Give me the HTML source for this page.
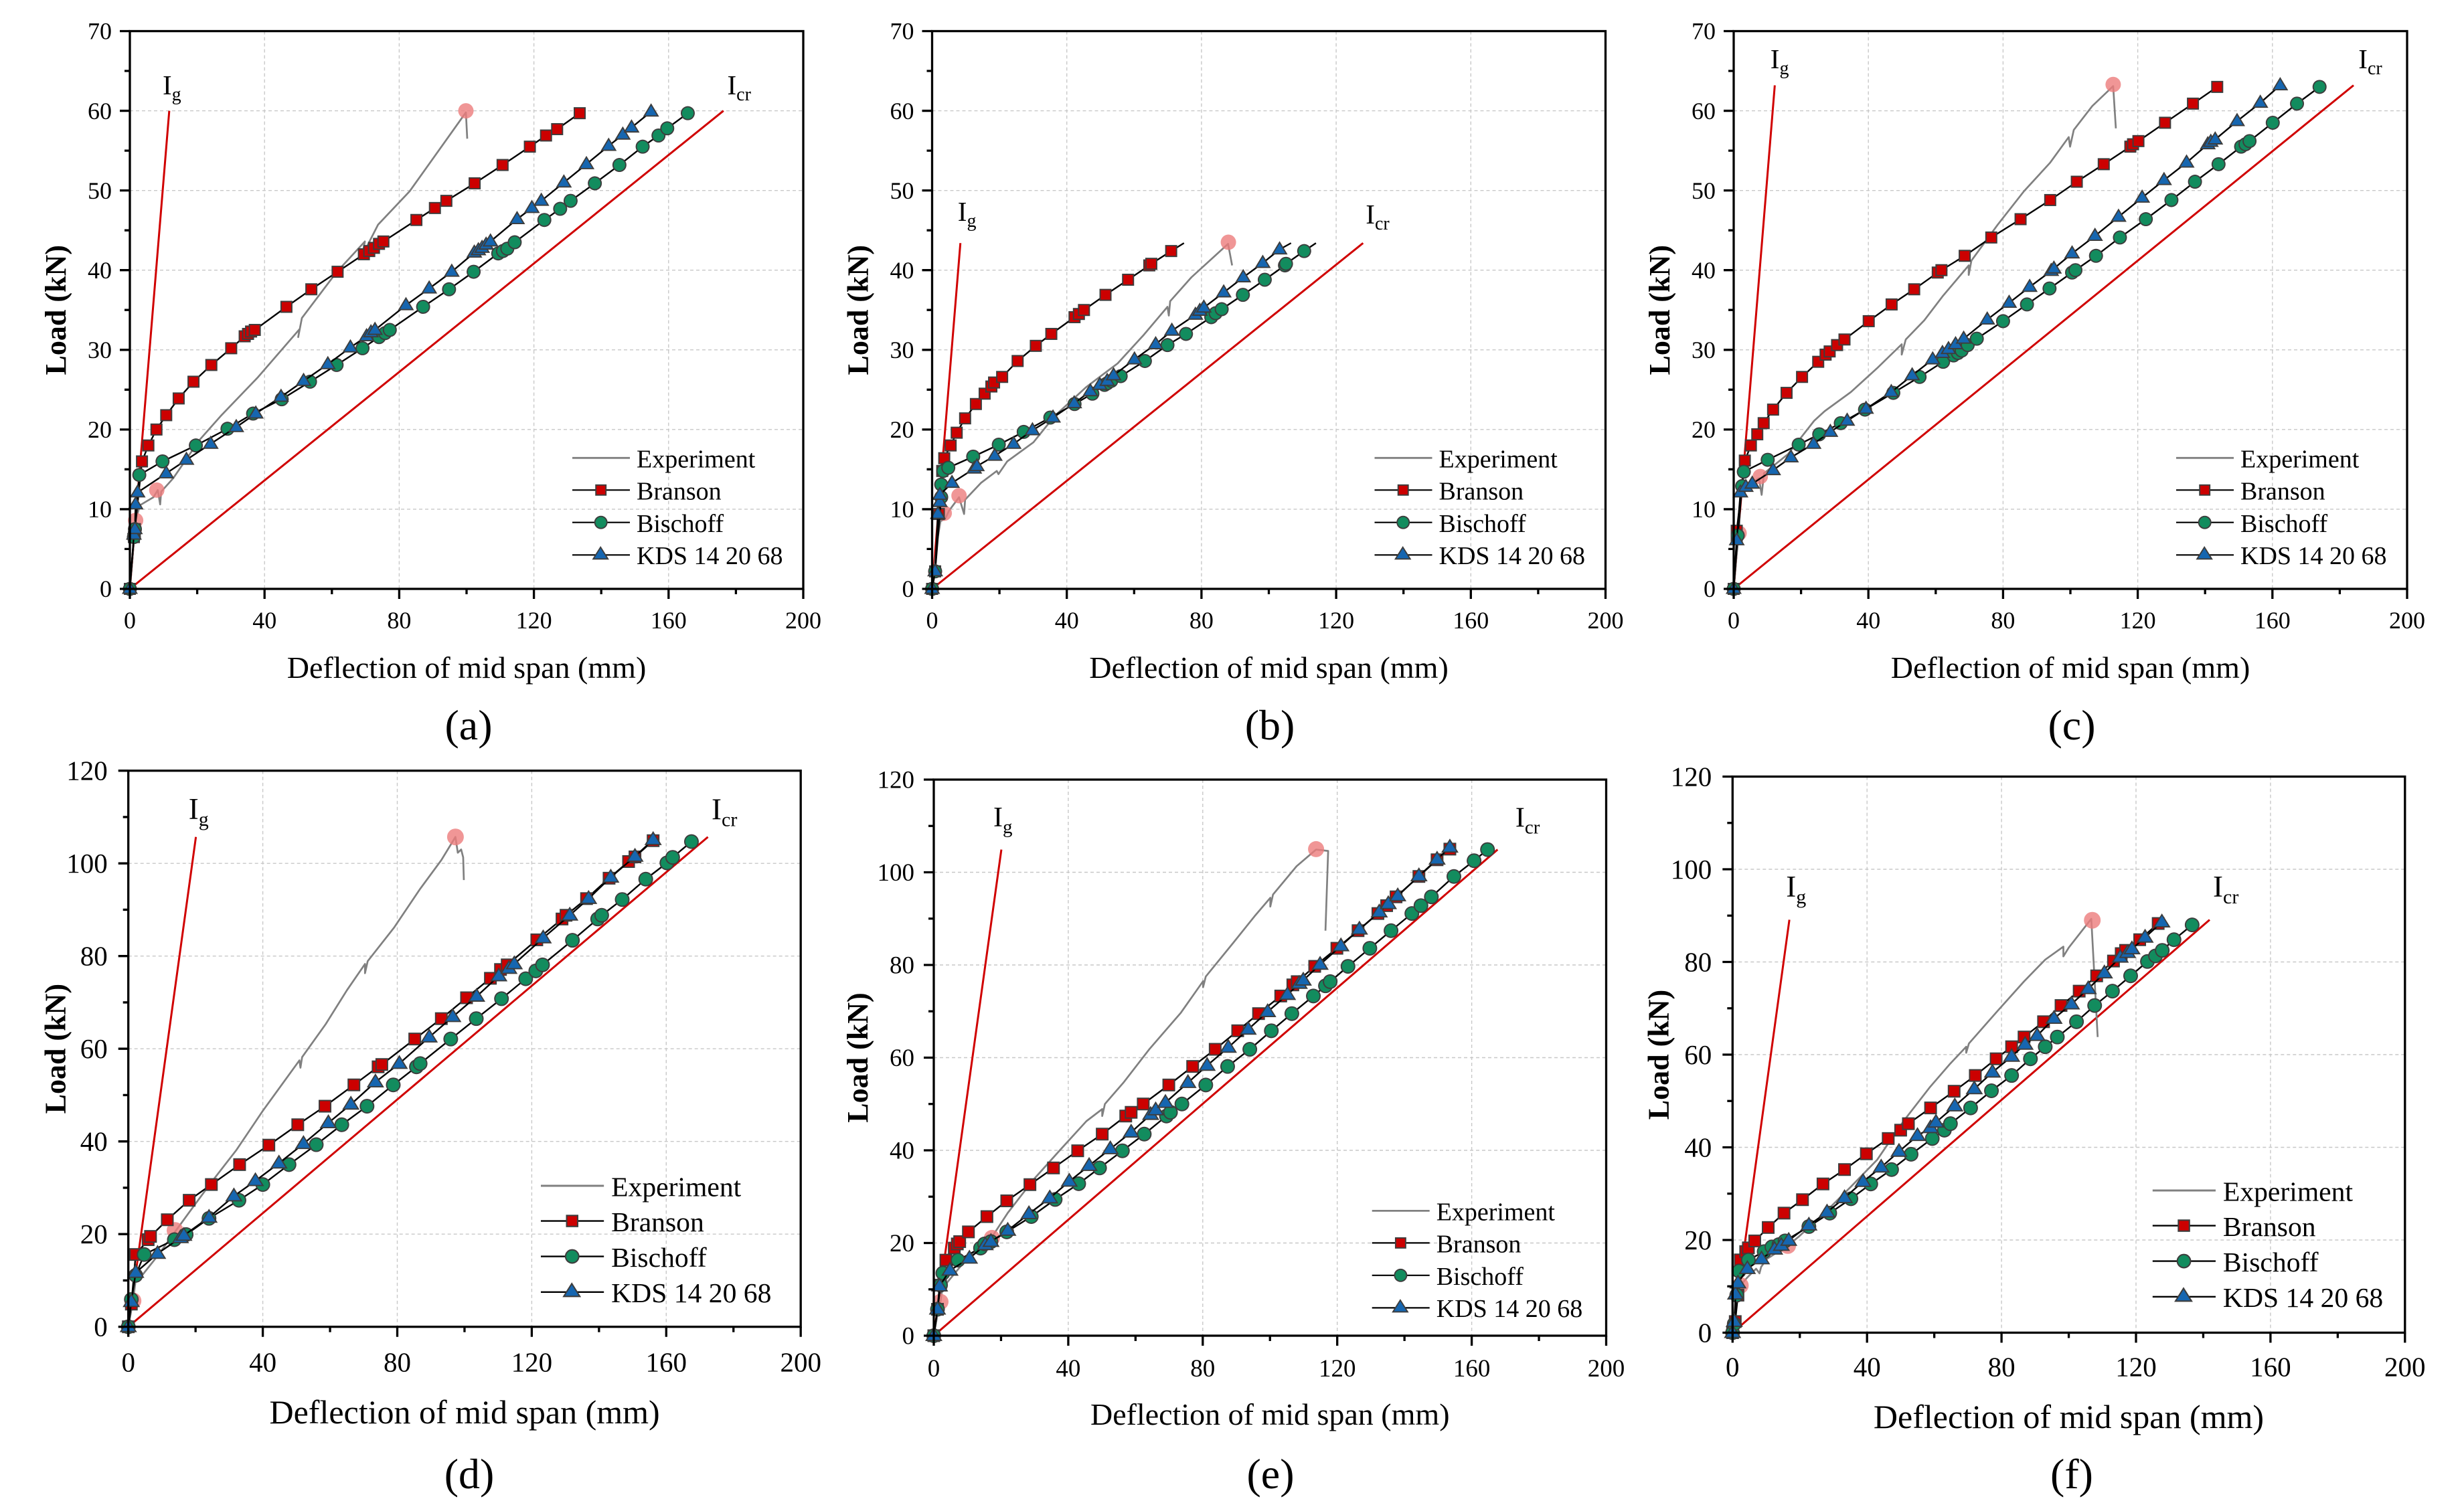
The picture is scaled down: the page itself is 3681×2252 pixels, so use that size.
<!DOCTYPE html>
<html><head><meta charset="utf-8"><style>
html,body{margin:0;padding:0;background:#fff;}
svg{display:block;}
.gr{fill:none;stroke:#c8c8c8;stroke-width:1.4;stroke-dasharray:5 4;}
.red{fill:none;stroke:#d00000;stroke-width:3;vector-effect:non-scaling-stroke;}
.ex{fill:none;stroke:#808080;stroke-width:2.7;vector-effect:non-scaling-stroke;stroke-linejoin:round;}
.ln{fill:none;stroke:#000;stroke-width:2.4;vector-effect:non-scaling-stroke;stroke-linejoin:round;}
.mk{fill:none;stroke:none;}
.s1{marker-start:url(#sq1);marker-mid:url(#sq1);marker-end:url(#sq1);}
.c1{marker-start:url(#ci1);marker-mid:url(#ci1);marker-end:url(#ci1);}
.t1{marker-start:url(#tr1);marker-mid:url(#tr1);marker-end:url(#tr1);}
.s2{marker-start:url(#sq2);marker-mid:url(#sq2);marker-end:url(#sq2);}
.c2{marker-start:url(#ci2);marker-mid:url(#ci2);marker-end:url(#ci2);}
.t2{marker-start:url(#tr2);marker-mid:url(#tr2);marker-end:url(#tr2);}
.pk{fill:#ec7c7c;fill-opacity:0.8;}
text{font-family:"Liberation Serif","Times New Roman",serif;fill:#000;}
.yt{font-weight:bold;}
</style></head><body>
<svg xmlns="http://www.w3.org/2000/svg" width="3681" height="2252" viewBox="0 0 3681 2252" font-family="'Liberation Serif', 'Times New Roman', serif">
<defs>
<marker id="sq1" markerUnits="userSpaceOnUse" viewBox="-5 -5 10 10" markerWidth="10" markerHeight="10" refX="0" refY="0" orient="0"><rect x="-1.789" y="-0.756" width="3.578" height="1.512" fill="#3d3d3d"/><rect x="-1.412" y="-0.596" width="2.824" height="1.192" fill="#cc0000"/></marker>
<marker id="ci1" markerUnits="userSpaceOnUse" viewBox="-5 -5 10 10" markerWidth="10" markerHeight="10" refX="0" refY="0" orient="0"><ellipse cx="0" cy="0" rx="2.087" ry="0.882" fill="#3d3d3d"/><ellipse cx="0" cy="0" rx="1.71" ry="0.722" fill="#128c5e"/></marker>
<marker id="tr1" markerUnits="userSpaceOnUse" viewBox="-5 -5 10 10" markerWidth="10" markerHeight="10" refX="0" refY="0" orient="0"><polygon points="-2.386,-0.63 2.386,-0.63 0,1.05" fill="#3d3d3d"/><polygon points="-1.718,-0.47 1.718,-0.47 0,0.739" fill="#1666b0"/></marker>
<marker id="sq2" markerUnits="userSpaceOnUse" viewBox="-5 -5 10 10" markerWidth="10" markerHeight="10" refX="0" refY="0" orient="0"><rect x="-1.891" y="-1.372" width="3.782" height="2.744" fill="#3d3d3d"/><rect x="-1.513" y="-1.097" width="3.026" height="2.194" fill="#cc0000"/></marker>
<marker id="ci2" markerUnits="userSpaceOnUse" viewBox="-5 -5 10 10" markerWidth="10" markerHeight="10" refX="0" refY="0" orient="0"><ellipse cx="0" cy="0" rx="2.19" ry="1.588" fill="#3d3d3d"/><ellipse cx="0" cy="0" rx="1.812" ry="1.314" fill="#128c5e"/></marker>
<marker id="tr2" markerUnits="userSpaceOnUse" viewBox="-5 -5 10 10" markerWidth="10" markerHeight="10" refX="0" refY="0" orient="0"><polygon points="-2.588,-1.155 2.588,-1.155 0,1.877" fill="#3d3d3d"/><polygon points="-1.91,-0.881 1.91,-0.881 0,1.357" fill="#1666b0"/></marker>

<g id="grT"><path class="gr" d="M201.2,0V833.5M402.4,0V833.5M603.6,0V833.5M804.8,0V833.5M0,714.43H1006M0,595.36H1006M0,476.29H1006M0,357.21H1006M0,238.14H1006M0,119.07H1006"/></g>
<g id="frT"><rect x="0" y="0" width="1006" height="833.5" fill="none" stroke="#000" stroke-width="3.3"/><path fill="none" stroke="#000" stroke-width="3.3" d="M0,833.5v15M201.2,833.5v15M402.4,833.5v15M603.6,833.5v15M804.8,833.5v15M1006,833.5v15M100.6,833.5v8M301.8,833.5v8M503,833.5v8M704.2,833.5v8M905.4,833.5v8M0,833.5h-15M0,714.43h-15M0,595.36h-15M0,476.29h-15M0,357.21h-15M0,238.14h-15M0,119.07h-15M0,0h-15M0,773.9h-8M0,654.8h-8M0,535.8h-8M0,416.7h-8M0,297.7h-8M0,178.6h-8M0,59.5h-8"/></g>
<g id="grB"><path class="gr" d="M200.9,0V831M401.8,0V831M602.7,0V831M803.6,0V831M0,692.5H1004.5M0,554H1004.5M0,415.5H1004.5M0,277H1004.5M0,138.5H1004.5"/></g>
<g id="frB"><rect x="0" y="0" width="1004.5" height="831" fill="none" stroke="#000" stroke-width="3.3"/><path fill="none" stroke="#000" stroke-width="3.3" d="M0,831v15M200.9,831v15M401.8,831v15M602.7,831v15M803.6,831v15M1004.5,831v15M100.45,831v8M301.35,831v8M502.25,831v8M703.15,831v8M904.05,831v8M0,831h-15M0,692.5h-15M0,554h-15M0,415.5h-15M0,277h-15M0,138.5h-15M0,0h-15M0,761.75h-8M0,623.25h-8M0,484.75h-8M0,346.25h-8M0,207.75h-8M0,69.25h-8"/></g>
<g id="lgG">
<line x1="0" y1="0" x2="86" y2="0" stroke="#808080" stroke-width="2.8"/>
<line x1="0" y1="48" x2="86" y2="48" stroke="#000" stroke-width="2.2"/>
<rect x="35.2" y="40.5" width="15" height="15" fill="#cc0000" stroke="#3d3d3d" stroke-width="1.9"/>
<line x1="0" y1="96.4" x2="86" y2="96.4" stroke="#000" stroke-width="2.2"/>
<circle cx="42.7" cy="96.4" r="9" fill="#128c5e" stroke="#3d3d3d" stroke-width="1.9"/>
<line x1="0" y1="145" x2="86" y2="145" stroke="#000" stroke-width="2.2"/>
<polygon points="31.2,151 53.2,151 42.2,133.5" fill="#1666b0" stroke="#3d3d3d" stroke-width="1.9"/>
</g>
</defs>
<rect x="0" y="0" width="3681" height="2252" fill="#fff"/>

<!-- ===== Panel (a) ===== -->
<use href="#grT" transform="translate(194,46.5)"/>
<g transform="translate(194,880) scale(5.03,-11.907)">
<polyline class="red" points="0,0 11.7,60"/>
<polyline class="red" points="0,0 176.3,60"/>
<polyline class="ex" points="0,0 1,5 1.7,8.6 3,10.5 5,11 7,11.5 8.3,12.4 9,10.6 9.3,12.2 12.9,13.9 20.7,18.7 27,21.7 37.9,26.5 50.4,32.6 50,31.6 51.1,34 61.3,39.7 69.8,43.6 69,41.8 73.7,45.7 83.1,49.9 99.8,59.8 100.2,56.5"/>
</g>
<circle class="pk" cx="202.6" cy="777.6" r="11.5"/><circle class="pk" cx="234.2" cy="732.4" r="11.5"/><circle class="pk" cx="696" cy="165.6" r="11.5"/>
<g transform="translate(194,880) scale(5.03,-11.907)">
<polyline class="ln s1" points="0,0 1.2,6.5 1.5,7.5 3.6,16 5.5,18 7.9,20 10.8,21.8 14.5,23.9 18.9,26 24.2,28.1 30.1,30.2 34.1,31.7 35.1,32 36,32.3 37.1,32.5 46.5,35.4 53.9,37.6 61.7,39.8 69.5,42 71.1,42.4 72.5,42.8 74,43.3 75.3,43.6 85.1,46.3 90.6,47.8 94,48.7 102.4,50.9 110.7,53.2 118.8,55.5 123.6,56.9 126.9,57.7 133.6,59.7"/>
<polyline class="ln c1" points="0,0 1.2,6.5 1.5,7.5 2.8,14.3 9.7,16 19.6,18 29,20.1 36.6,22 45.1,23.8 53.5,26 61.4,28.1 69.1,30.2 74,31.6 75.8,32.1 77.2,32.5 87.1,35.4 94.8,37.6 102.1,39.8 109.4,42.1 110.8,42.4 112.1,42.7 114.3,43.5 123.1,46.3 127.8,47.7 130.9,48.7 138.1,50.9 145.4,53.2 152.3,55.5 157,56.9 159.6,57.8 165.7,59.7"/>
<polyline class="ln t1" points="0,0 1.2,6.8 1.5,7.5 1.7,10.6 2.3,12.1 10.8,14.5 16.8,16.2 24,18.2 31.6,20.3 37.4,22 44.9,24.1 51.6,26.1 58.8,28.2 65.5,30.3 70.3,31.7 71.6,32.2 72.8,32.5 82,35.6 88.9,37.7 95.6,39.8 102.3,42.2 103.5,42.5 104.6,42.8 105.8,43.2 107.1,43.6 115,46.4 119.4,47.8 122.2,48.7 128.9,51 135.6,53.3 142.2,55.6 146.4,57 149,57.9 154.8,59.9"/>
</g>
<use href="#frT" transform="translate(194,46.5)"/>
<g font-size="36" text-anchor="end">
<text x="167" y="892">0</text><text x="167" y="773">10</text><text x="167" y="654">20</text><text x="167" y="535">30</text><text x="167" y="416">40</text><text x="167" y="297">50</text><text x="167" y="178">60</text><text x="167" y="58.5">70</text>
</g>
<g font-size="36" text-anchor="middle">
<text x="194" y="939">0</text><text x="395.2" y="939">40</text><text x="596.4" y="939">80</text><text x="797.6" y="939">120</text><text x="998.8" y="939">160</text><text x="1200" y="939">200</text>
</g>
<text x="697" y="1013" font-size="46" text-anchor="middle">Deflection of mid span (mm)</text>
<text class="yt" transform="translate(98,463.25) rotate(-90)" font-size="44" text-anchor="middle">Load (kN)</text>
<text x="700" y="1105" font-size="64" text-anchor="middle">(a)</text>
<text x="243" y="141" font-size="41">I<tspan font-size="28" dy="9">g</tspan></text>
<text x="1086.5" y="141" font-size="41">I<tspan font-size="28" dy="9">cr</tspan></text>
<g transform="translate(855,684.3)"><use href="#lgG"/><g font-size="38"><text x="96" y="14">Experiment</text><text x="96" y="62.2">Branson</text><text x="96" y="110.7">Bischoff</text><text x="96" y="158.7">KDS 14 20 68</text></g></g>

<!-- ===== Panel (b) ===== -->
<use href="#grT" transform="translate(1392.5,46.5)"/>
<g transform="translate(1392.5,880) scale(5.03,-11.907)">
<polyline class="red" points="0,0 8.4,43.4"/>
<polyline class="red" points="0,0 128,43.4"/>
<polyline class="ex" points="0,0 0.5,2 1.5,6 2.5,8.5 3.9,8.8 5,9.8 8,11.5 9.5,9.4 9.8,11.2 14.5,13.3 19.2,14.8 19.7,14.4 22.3,16 30.1,18.4 36.4,21.7 45.7,25.3 55.1,28.3 62.9,31.9 69.9,35.4 70.3,34.3 70.7,36.1 77,39.1 87.9,43.3 89.1,40.6"/>
</g>
<circle class="pk" cx="1410.6" cy="766.9" r="11.5"/><circle class="pk" cx="1432.7" cy="740.7" r="11.5"/><circle class="pk" cx="1835.1" cy="362" r="11.5"/>
<g transform="translate(1392.5,880) scale(5.03,-11.907)">
<polyline class="ln" points="0,0 0.9,2.2 2,9.4 3,14.8 3.6,16.4 5.5,18 7.3,19.6 9.8,21.4 13,23.2 15.6,24.5 17.6,25.4 18.4,25.9 20.8,26.6 25.4,28.6 30.8,30.5 35.4,32 42.3,34.1 43.6,34.5 45.1,35 51.5,36.9 58.2,38.8 64.5,40.6 65.1,40.8 71,42.4 74.8,43.4"/>
<polyline class="mk s1" points="0,0 0.9,2.2 2,9.4 3,14.8 3.6,16.4 5.5,18 7.3,19.6 9.8,21.4 13,23.2 15.6,24.5 17.6,25.4 18.4,25.9 20.8,26.6 25.4,28.6 30.8,30.5 35.4,32 42.3,34.1 43.6,34.5 45.1,35 51.5,36.9 58.2,38.8 64.5,40.6 65.1,40.8 71,42.4"/>
<polyline class="ln" points="0,0 0.9,2.2 2.7,11.5 2.7,13.1 3.3,14.8 4.8,15.2 12.2,16.6 19.8,18.1 27.2,19.7 35.1,21.5 42.3,23.2 47.6,24.5 51.2,25.6 52,25.8 53.2,26.1 56,26.7 63.2,28.6 69.9,30.6 75.4,32 82.9,34.1 84.2,34.6 86,35.1 92.3,36.9 98.8,38.8 104.8,40.6 105.1,40.8 110.5,42.4 114,43.4"/>
<polyline class="mk c1" points="0,0 0.9,2.2 2.7,11.5 2.7,13.1 3.3,14.8 4.8,15.2 12.2,16.6 19.8,18.1 27.2,19.7 35.1,21.5 42.3,23.2 47.6,24.5 51.2,25.6 52,25.8 53.2,26.1 56,26.7 63.2,28.6 69.9,30.6 75.4,32 82.9,34.1 84.2,34.6 86,35.1 92.3,36.9 98.8,38.8 104.8,40.6 105.1,40.8 110.5,42.4"/>
<polyline class="ln" points="0,0 0.9,2.2 1.7,9.4 2.3,10.9 2.3,11.8 5.9,13.3 12.5,15.1 13.3,15.4 18.6,16.7 24.2,18.2 29.8,19.9 35.9,21.5 42.2,23.3 47,24.8 49.8,25.6 52,26.1 53.9,26.8 60.1,28.8 66.4,30.7 71.2,32.4 78.2,34.4 79.5,34.9 80.7,35.3 86.6,37.2 92.4,39.1 98.2,40.9 103.2,42.6 106.6,43.4"/>
<polyline class="mk t1" points="0,0 0.9,2.2 1.7,9.4 2.3,10.9 2.3,11.8 5.9,13.3 12.5,15.1 13.3,15.4 18.6,16.7 24.2,18.2 29.8,19.9 35.9,21.5 42.2,23.3 47,24.8 49.8,25.6 52,26.1 53.9,26.8 60.1,28.8 66.4,30.7 71.2,32.4 78.2,34.4 79.5,34.9 80.7,35.3 86.6,37.2 92.4,39.1 98.2,40.9 103.2,42.6"/>
</g>
<use href="#frT" transform="translate(1392.5,46.5)"/>
<g font-size="36" text-anchor="end">
<text x="1365.5" y="892">0</text><text x="1365.5" y="773">10</text><text x="1365.5" y="654">20</text><text x="1365.5" y="535">30</text><text x="1365.5" y="416">40</text><text x="1365.5" y="297">50</text><text x="1365.5" y="178">60</text><text x="1365.5" y="58.5">70</text>
</g>
<g font-size="36" text-anchor="middle">
<text x="1392.5" y="939">0</text><text x="1593.7" y="939">40</text><text x="1794.9" y="939">80</text><text x="1996.1" y="939">120</text><text x="2197.3" y="939">160</text><text x="2398.5" y="939">200</text>
</g>
<text x="1895.5" y="1013" font-size="46" text-anchor="middle">Deflection of mid span (mm)</text>
<text class="yt" transform="translate(1296.5,463.25) rotate(-90)" font-size="44" text-anchor="middle">Load (kN)</text>
<text x="1897" y="1105" font-size="64" text-anchor="middle">(b)</text>
<text x="1430.8" y="330" font-size="41">I<tspan font-size="28" dy="9">g</tspan></text>
<text x="2040.3" y="334" font-size="41">I<tspan font-size="28" dy="9">cr</tspan></text>
<g transform="translate(2053.5,684.3)"><use href="#lgG"/><g font-size="38"><text x="96" y="14">Experiment</text><text x="96" y="62.2">Branson</text><text x="96" y="110.7">Bischoff</text><text x="96" y="158.7">KDS 14 20 68</text></g></g>

<!-- ===== Panel (c) ===== -->
<use href="#grT" transform="translate(2590,46.5)"/>
<g transform="translate(2590,880) scale(5.03,-11.907)">
<polyline class="red" points="0,0 12.2,63.2"/>
<polyline class="red" points="0,0 184.1,63.2"/>
<polyline class="ex" points="0,0 0.8,4 1.6,7 2,12.1 4,13 7.5,13.9 8.3,11.8 9,14.5 16.1,16.9 23.9,21.1 27,22.3 34.8,24.7 42.6,27.7 49.9,30.7 49.9,29.4 51.1,31.3 56.6,33.7 62,36.7 69.8,40.6 69.8,39.4 70.6,41.2 78.4,45.7 86.2,49.9 94,53.5 99.5,56.7 99.9,55.5 101,57.6 106.5,60.6 112.7,63.1 113.5,57.8"/>
</g>
<circle class="pk" cx="2598" cy="796.7" r="11.5"/><circle class="pk" cx="2629.7" cy="712.1" r="11.5"/><circle class="pk" cx="3156.9" cy="126.3" r="11.5"/>
<g transform="translate(2590,880) scale(5.03,-11.907)">
<polyline class="ln s1" points="0,0 0.9,6.3 0.9,7.3 3.3,16.1 5.1,18 7,19.4 8.9,20.8 11.7,22.5 15.7,24.6 20.3,26.6 25.1,28.5 27.3,29.4 28.5,29.8 30.7,30.6 32.9,31.3 40.1,33.6 46.9,35.7 53.6,37.6 60.6,39.7 61.7,40 68.6,41.8 76.5,44.1 85.2,46.4 94,48.8 101.9,51.1 109.9,53.3 117.8,55.5 118.6,55.8 120.2,56.2 128.1,58.5 136.4,60.9 143.6,63"/>
<polyline class="ln c1" points="0,0 1.2,6.7 2.5,12.9 3,14.7 10.1,16.2 19.3,18.1 25.4,19.4 31.8,20.8 39,22.5 47.4,24.6 55.2,26.6 62.2,28.5 65.3,29.3 66.6,29.6 67.7,29.9 69.5,30.6 72.2,31.4 80,33.6 87.1,35.7 93.8,37.7 100.5,39.7 101.5,40 107.6,41.8 114.7,44.1 122.4,46.4 130,48.8 137,51.1 144,53.3 150.7,55.5 152,55.8 153.2,56.2 160.1,58.5 167.3,60.9 174,63"/>
<polyline class="ln t1" points="0,0 0.9,6.1 2,12.1 3.6,12.8 5.5,13.2 11.7,14.9 17,16.5 23.7,18.2 28.7,19.7 33.7,21.1 39.3,22.6 46.8,24.7 53,26.8 59.1,28.8 62,29.6 63.8,30.1 65.9,30.7 68.3,31.4 75.3,33.8 81.8,35.9 87.9,37.9 94.3,39.9 95.1,40.2 100.5,42.1 107.3,44.3 114.3,46.7 121.3,49.1 127.8,51.3 134.5,53.5 140.8,55.8 141.7,56.1 143,56.4 149.5,58.7 156.4,61 162.3,63.2"/>
</g>
<use href="#frT" transform="translate(2590,46.5)"/>
<g font-size="36" text-anchor="end">
<text x="2563" y="892">0</text><text x="2563" y="773">10</text><text x="2563" y="654">20</text><text x="2563" y="535">30</text><text x="2563" y="416">40</text><text x="2563" y="297">50</text><text x="2563" y="178">60</text><text x="2563" y="58.5">70</text>
</g>
<g font-size="36" text-anchor="middle">
<text x="2590" y="939">0</text><text x="2791.2" y="939">40</text><text x="2992.4" y="939">80</text><text x="3193.6" y="939">120</text><text x="3394.8" y="939">160</text><text x="3596" y="939">200</text>
</g>
<text x="3093" y="1013" font-size="46" text-anchor="middle">Deflection of mid span (mm)</text>
<text class="yt" transform="translate(2494,463.25) rotate(-90)" font-size="44" text-anchor="middle">Load (kN)</text>
<text x="3095" y="1105" font-size="64" text-anchor="middle">(c)</text>
<text x="2644.8" y="102" font-size="41">I<tspan font-size="28" dy="9">g</tspan></text>
<text x="3523.3" y="102" font-size="41">I<tspan font-size="28" dy="9">cr</tspan></text>
<g transform="translate(3251,684.3)"><use href="#lgG"/><g font-size="38"><text x="96" y="14">Experiment</text><text x="96" y="62.2">Branson</text><text x="96" y="110.7">Bischoff</text><text x="96" y="158.7">KDS 14 20 68</text></g></g>

<!-- ===== Panel (d) ===== -->
<use href="#grB" transform="translate(191.7,1151.7)"/>
<g transform="translate(191.7,1982.7) scale(5.0225,-6.925)">
<polyline class="red" points="0,0 20.1,105.7"/>
<polyline class="red" points="0,0 172.4,105.7"/>
<polyline class="ex" points="0,0 1.4,5.6 2.2,10.1 4.1,11.1 8.7,15.3 13.4,20 18.1,24.7 24.4,30.9 32.2,38.2 40,46.6 46.2,52.8 50.9,57.5 51.2,55.9 51.7,58.2 58.7,65.3 65,72.6 70.4,78.3 70.4,76.3 71.2,78.9 79,86.1 86.8,94.5 93.1,100.7 97.3,105.7 98,102.3 99,103 99.6,101.3 99.8,96.4"/>
</g>
<circle class="pk" cx="198.7" cy="1943.9" r="12.5"/><circle class="pk" cx="261.5" cy="1838.7" r="12.5"/><circle class="pk" cx="680.4" cy="1250.7" r="12.5"/>
<g transform="translate(191.7,1982.7) scale(5.0225,-6.925)">
<polyline class="ln s2" points="0,0 0.9,4.9 2.2,15.6 5.9,18.8 6.6,19.5 11.6,23.1 18.1,27.3 24.7,30.7 33.1,35 41.8,39.2 50.4,43.6 58.5,47.6 67.1,52.2 74.3,56.1 75.4,56.6 85.2,62.1 93.1,66.5 100.6,71 107.7,75.2 110.7,77.1 112.7,78.1 121.5,83.5 129,88 130.2,88.8 136.3,92.4 143,96.8 148.8,100.4 150.7,101.4 156.1,104.9"/>
<polyline class="ln c2" points="0,0 0.9,5.9 2.2,11.1 4.7,15.6 13.7,18.8 17.2,19.9 24,23.4 32.9,27.3 40,30.7 47.8,35 55.9,39.3 63.5,43.6 71,47.6 78.8,52.2 85.7,56.1 86.8,56.8 95.9,62.1 103.5,66.5 111,70.8 118.2,75.1 121.2,76.8 123.2,78.1 132.1,83.4 139.6,88 140.8,88.8 146.9,92.2 153.9,96.6 160.2,100.1 161.9,101.3 167.5,104.7"/>
<polyline class="ln t2" points="0,0 0.9,5.4 2.2,11.7 8.7,15.8 15.5,19.2 16.5,19.7 24,23.6 31.4,28.2 37.8,31.5 44.8,35.3 52.1,39.5 59.5,44 66.2,48 73.5,52.8 80.6,56.8 89.5,62.5 96.5,66.9 103.6,71.3 110.2,75.7 113.2,77.3 114.8,78.3 123.4,83.9 131.3,88.8 136.9,92.4 143.5,97 150.7,101.5 156.1,105.1"/>
</g>
<use href="#frB" transform="translate(191.7,1151.7)"/>
<g font-size="41" text-anchor="end">
<text x="160.7" y="1996.7">0</text><text x="160.7" y="1858.2">20</text><text x="160.7" y="1719.7">40</text><text x="160.7" y="1581.2">60</text><text x="160.7" y="1442.7">80</text><text x="160.7" y="1304.2">100</text><text x="160.7" y="1165.7">120</text>
</g>
<g font-size="41" text-anchor="middle">
<text x="191.7" y="2049.7">0</text><text x="392.6" y="2049.7">40</text><text x="593.5" y="2049.7">80</text><text x="794.4" y="2049.7">120</text><text x="995.3" y="2049.7">160</text><text x="1196.2" y="2049.7">200</text>
</g>
<text x="694.1" y="2127" font-size="50" text-anchor="middle">Deflection of mid span (mm)</text>
<text class="yt" transform="translate(97.7,1567.2) rotate(-90)" font-size="44" text-anchor="middle">Load (kN)</text>
<text x="701" y="2224" font-size="64" text-anchor="middle">(d)</text>
<text x="281.7" y="1224" font-size="45">I<tspan font-size="30" dy="10">g</tspan></text>
<text x="1063" y="1224.7" font-size="45">I<tspan font-size="30" dy="10">cr</tspan></text>
<g transform="translate(808,1772) scale(1.095)"><use href="#lgG"/><g font-size="38"><text x="96" y="14">Experiment</text><text x="96" y="62.2">Branson</text><text x="96" y="110.7">Bischoff</text><text x="96" y="158.7">KDS 14 20 68</text></g></g>

<!-- ===== Panel (e) ===== -->
<use href="#grB" transform="translate(1395,1165)"/>
<g transform="translate(1395,1996) scale(5.0225,-6.925)">
<polyline class="red" points="0,0 20.1,104.9"/>
<polyline class="red" points="0,0 167.7,104.9"/>
<polyline class="ex" points="0,0 1.2,5 2,7.3 2.4,9.5 4,11.5 8,15 12,18 17.3,21.3 22,26.5 29.8,33.8 37.6,40.1 45.4,46.3 50.1,48.9 50.1,47.4 50.9,50 56.4,54.6 64.2,61.9 73.5,69.7 80.1,76.5 80.1,75.2 80.9,77.5 89.1,84.8 95.4,90.5 100.1,94.5 100.1,92.6 100.9,95.2 107.9,101.3 113.7,104.9 117.3,104.6 116.5,87.4"/>
</g>
<circle class="pk" cx="1405" cy="1945.4" r="12"/><circle class="pk" cx="1481.9" cy="1849.9" r="12"/><circle class="pk" cx="1966.1" cy="1268.9" r="12"/>
<g transform="translate(1395,1996) scale(5.0225,-6.925)">
<polyline class="ln s2" points="0,0 1.1,5.7 2,10.9 3.6,16.3 6.1,18.9 7,19.8 7.7,20.3 10.3,22.4 15.8,25.7 21.7,29.1 28.6,32.6 35.6,36.2 42.8,39.9 50.1,43.5 57.1,47.4 58.7,48.2 62.3,50 69.9,54.1 77,58.1 83.7,61.8 90.4,65.8 96.6,69.5 103.2,73.3 106.8,75.7 108.1,76.4 113.3,79.7 119.9,83.6 126.2,87.4 132.1,91.1 134.7,92.8 137.5,94.7 144.3,99.1 149.7,102.7 153.5,105"/>
<polyline class="ln c2" points="0,0 1.1,5.7 2,10.9 2.7,13.5 7.2,16.3 13.9,18.9 15.1,19.8 17,20.3 21.7,22.4 29,25.7 36.1,29.4 43.1,32.8 49.3,36.2 56.1,39.9 62.6,43.5 69.2,47.4 70.4,48.2 73.8,50 80.9,54.1 87.4,58.1 94,61.8 100.4,65.8 106.5,69.5 112.9,73.3 116.5,75.5 117.9,76.4 123.2,79.7 129.7,83.6 136,87.4 142.2,91.1 144.9,92.8 148,94.7 154.7,99.1 160.7,102.5 164.7,104.9"/>
<polyline class="ln t2" points="0,0 1.1,5.7 1.7,10.7 4.8,14.1 10.6,16.7 15.3,19.6 17,20.3 22,22.7 28.3,26.3 34.5,29.7 40.3,33.3 46.2,36.7 52.5,40.3 58.7,43.9 64.5,47.7 66,48.7 68.9,50.3 75.6,54.6 81.3,58.3 87.6,62.2 93.5,66.1 99.3,69.9 105.2,73.6 108.7,76 109.9,76.7 114.9,80.1 121.1,84.1 126.6,87.7 132.5,91.4 135.2,93.2 138,94.9 144.3,99.2 149.7,102.8 153.5,105.4"/>
</g>
<use href="#frB" transform="translate(1395,1165)"/>
<g font-size="37" text-anchor="end">
<text x="1366" y="2008.5">0</text><text x="1366" y="1870">20</text><text x="1366" y="1731.5">40</text><text x="1366" y="1593">60</text><text x="1366" y="1454.5">80</text><text x="1366" y="1316">100</text><text x="1366" y="1177.5">120</text>
</g>
<g font-size="37" text-anchor="middle">
<text x="1395" y="2057">0</text><text x="1595.9" y="2057">40</text><text x="1796.8" y="2057">80</text><text x="1997.7" y="2057">120</text><text x="2198.6" y="2057">160</text><text x="2399.5" y="2057">200</text>
</g>
<text x="1897.25" y="2129" font-size="46" text-anchor="middle">Deflection of mid span (mm)</text>
<text class="yt" transform="translate(1296,1580.5) rotate(-90)" font-size="44" text-anchor="middle">Load (kN)</text>
<text x="1898" y="2224" font-size="64" text-anchor="middle">(e)</text>
<text x="1484" y="1235" font-size="42">I<tspan font-size="29" dy="10">g</tspan></text>
<text x="2263.9" y="1235.5" font-size="42">I<tspan font-size="29" dy="10">cr</tspan></text>
<g transform="translate(2049.7,1809.4)"><use href="#lgG"/><g font-size="38"><text x="96" y="14">Experiment</text><text x="96" y="62.2">Branson</text><text x="96" y="110.7">Bischoff</text><text x="96" y="158.7">KDS 14 20 68</text></g></g>

<!-- ===== Panel (f) ===== -->
<use href="#grB" transform="translate(2588.3,1160.5)"/>
<g transform="translate(2588.3,1991.5) scale(5.0225,-6.925)">
<polyline class="red" points="0,0 16.9,89.1"/>
<polyline class="red" points="0,0 141.9,89.1"/>
<polyline class="ex" points="0,0 1.1,7.1 2.3,10.2 4.5,12 7,13.8 8,12.8 8.5,14.2 10.2,15.9 16.4,18.8 19.5,20.6 27.3,25.8 35.2,31.5 43,37.3 50.8,45.6 58.6,52.9 64.8,58.1 69.5,61.7 69.5,60.4 70.3,62.4 78.9,69.5 86.7,75.8 93,80.5 98.4,83.3 98.4,81.2 100,83.1 106.7,89.3 108.6,63.8"/>
</g>
<circle class="pk" cx="2599.9" cy="1920.9" r="12.5"/><circle class="pk" cx="2670.7" cy="1861.3" r="12.5"/><circle class="pk" cx="3125.7" cy="1375.2" r="12.5"/>
<g transform="translate(2588.3,1991.5) scale(5.0225,-6.925)">
<polyline class="ln s2" points="0,0 0.8,2.4 1.6,8.1 2.3,15.7 3.9,17.5 4.7,18.3 6.6,19.8 10.6,22.7 15.3,25.8 20.8,28.7 26.9,32.1 33.3,35.2 39.8,38.6 46.3,41.9 50,43.7 52.3,45.1 58.9,48.5 65.9,52.1 72.2,55.5 78.4,59.1 83,61.7 86.7,63.8 92.5,67.1 97.7,70.6 103.1,73.7 108.3,77 113.3,80.2 115.6,81.8 116.9,82.5 121.1,84.8 126.6,88.3"/>
<polyline class="ln c2" points="0,0 0.5,1.9 1.25,8.1 1.9,13.3 4.7,15.7 9.4,17.5 11.7,18.5 13.8,19 15.6,19.8 22.7,22.9 28.9,25.8 35.2,28.9 41.1,32.1 47.3,35.2 53.1,38.5 59.4,41.9 63,43.7 64.8,45.1 70.8,48.5 77,52.2 83,55.5 88.6,59.1 93,61.7 96.6,63.8 102.3,67.1 107.7,70.6 113,73.7 118.4,77 123.4,80.1 125.8,81.3 127.8,82.5 131.3,84.8 136.7,88"/>
<polyline class="ln t2" points="0,0 0.5,2.4 0.9,8.3 1.6,10.7 4.4,13.8 8.6,15.9 12.5,18 14.5,18.8 16.7,19.9 22.7,23.2 28.1,26 33.3,29.1 38.8,32.6 44.2,35.7 49.5,39.1 55,42.5 58.9,44.2 60.5,45.4 66.1,48.9 71.9,52.6 77.3,56.2 83,59.6 87,62.2 90.6,64.1 95.6,67.8 100.8,70.9 105.8,74.2 110.6,77.6 115.3,81 117.5,82 118.8,82.8 122.7,85.3 127.7,88.6"/>
</g>
<use href="#frB" transform="translate(2588.3,1160.5)"/>
<g font-size="41" text-anchor="end">
<text x="2557.3" y="2005.5">0</text><text x="2557.3" y="1867">20</text><text x="2557.3" y="1728.5">40</text><text x="2557.3" y="1590">60</text><text x="2557.3" y="1451.5">80</text><text x="2557.3" y="1313">100</text><text x="2557.3" y="1174.5">120</text>
</g>
<g font-size="41" text-anchor="middle">
<text x="2588.3" y="2056.5">0</text><text x="2789.2" y="2056.5">40</text><text x="2990.1" y="2056.5">80</text><text x="3191" y="2056.5">120</text><text x="3391.9" y="2056.5">160</text><text x="3592.8" y="2056.5">200</text>
</g>
<text x="3090.5" y="2134" font-size="50" text-anchor="middle">Deflection of mid span (mm)</text>
<text class="yt" transform="translate(2492.3,1576) rotate(-90)" font-size="44" text-anchor="middle">Load (kN)</text>
<text x="3095" y="2224" font-size="64" text-anchor="middle">(f)</text>
<text x="2668.3" y="1340.2" font-size="45">I<tspan font-size="30" dy="10">g</tspan></text>
<text x="3306" y="1340" font-size="45">I<tspan font-size="30" dy="10">cr</tspan></text>
<g transform="translate(3215.8,1779) scale(1.095)"><use href="#lgG"/><g font-size="38"><text x="96" y="14">Experiment</text><text x="96" y="62.2">Branson</text><text x="96" y="110.7">Bischoff</text><text x="96" y="158.7">KDS 14 20 68</text></g></g>
</svg>
</body></html>
